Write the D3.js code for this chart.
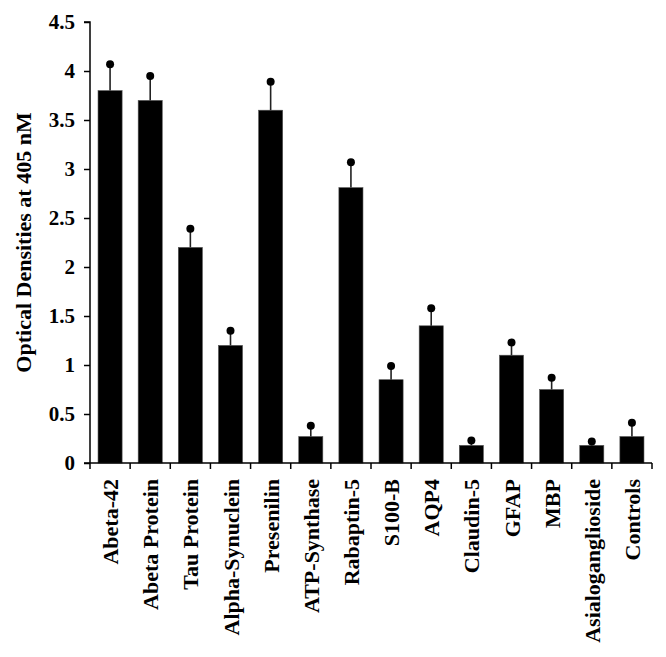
<!DOCTYPE html>
<html>
<head>
<meta charset="utf-8">
<script src="https://cdn.jsdelivr.net/npm/d3@7"></script>
<style>
  body { margin: 0; background: #fff; }
  text { font-family: "Liberation Serif", "DejaVu Serif", serif; font-weight: bold; fill: #000; }
</style>
</head>
<body>
<svg id="chart" width="666" height="657"></svg>
<script>
// categories and readings (optical density at 405 nM)
var categories = ['Abeta-42', 'Abeta Protein', 'Tau Protein', 'Alpha-Synuclein', 'Presenilin',
  'ATP-Synthase', 'Rabaptin-5', 'S100-B', 'AQP4', 'Claudin-5', 'GFAP', 'MBP',
  'Asialoganglioside', 'Controls'];
var means = [3.8, 3.7, 2.2, 1.2, 3.6, 0.27, 2.81, 0.85, 1.4, 0.18, 1.1, 0.75, 0.18, 0.27];
var errTops = [4.07, 3.95, 2.39, 1.35, 3.89, 0.38, 3.07, 0.99, 1.58, 0.23, 1.23, 0.87, 0.22, 0.41];
var yTicks = [0, 0.5, 1, 1.5, 2, 2.5, 3, 3.5, 4, 4.5];

var margin = { left: 90, top: 22, right: 14, bottom: 194 };
var width = 666, height = 657;

var svg = d3.select('#chart');

var x = d3.scaleBand()
    .domain(categories)
    .range([margin.left, width - margin.right])
    .padding(0);

var y = d3.scaleLinear()
    .domain([0, 4.5])
    .range([height - margin.bottom, margin.top]);

var bw = x.bandwidth();
var barW = bw * 0.6;

// bars
svg.append('g').selectAll('rect')
    .data(categories)
    .enter().append('rect')
    .attr('x', function (d) { return x(d) + (bw - barW) / 2; })
    .attr('y', function (d, i) { return y(means[i]); })
    .attr('width', barW)
    .attr('height', function (d, i) { return y(0) - y(means[i]); })
    .attr('fill', '#000')
    .attr('stroke', '#555')
    .attr('stroke-width', 0.6);

// error bars: stem + dot cap
var eb = svg.append('g');
eb.selectAll('line')
    .data(categories)
    .enter().append('line')
    .attr('x1', function (d) { return x(d) + bw / 2; })
    .attr('x2', function (d) { return x(d) + bw / 2; })
    .attr('y1', function (d, i) { return y(means[i]); })
    .attr('y2', function (d, i) { return y(errTops[i]); })
    .attr('stroke', '#222')
    .attr('stroke-width', 1.6);
eb.selectAll('circle')
    .data(categories)
    .enter().append('circle')
    .attr('cx', function (d) { return x(d) + bw / 2; })
    .attr('cy', function (d, i) { return y(errTops[i]); })
    .attr('r', 4)
    .attr('fill', '#000');

// y axis
var yAxis = svg.append('g')
    .attr('transform', 'translate(' + margin.left + ',0)')
    .call(d3.axisLeft(y).tickValues(yTicks).tickSize(6).tickPadding(9)
      .tickFormat(function (d) { return d3.format('')(d); }));
yAxis.select('.domain').attr('stroke', '#000').attr('stroke-width', 1.5)
    .attr('d', 'M0,' + y(0) + 'V' + y(4.5) + 'H-6');
yAxis.selectAll('.tick line').attr('stroke', '#000').attr('stroke-width', 1.5);
yAxis.selectAll('text').style('font-size', '21px').style('font-family', '"Liberation Serif", serif').style('font-weight', 'bold');

// x axis: ticks at band boundaries
var xg = svg.append('g').attr('transform', 'translate(0,' + y(0) + ')');
xg.append('line')
    .attr('x1', margin.left - 6).attr('x2', width - margin.right)
    .attr('stroke', '#000').attr('stroke-width', 1.5);
var bounds = categories.map(function (d) { return x(d); }).concat([x(categories[categories.length - 1]) + bw]);
xg.selectAll('line.tk')
    .data(bounds)
    .enter().append('line')
    .attr('class', 'tk')
    .attr('x1', function (d) { return d; })
    .attr('x2', function (d) { return d; })
    .attr('y1', 0).attr('y2', 6)
    .attr('stroke', '#000').attr('stroke-width', 1.5);
xg.selectAll('text')
    .data(categories)
    .enter().append('text')
    .attr('transform', function (d) { return 'translate(' + (x(d) + bw / 2 + 8) + ',' + 16 + ') rotate(-90)'; })
    .attr('text-anchor', 'end')
    .style('font-size', '22px')
    .text(function (d) { return d; });

// y title
svg.append('text')
    .attr('transform', 'translate(31,' + ((margin.top + y(0)) / 2 + 0) + ') rotate(-90)')
    .attr('text-anchor', 'middle')
    .style('font-size', '22px')
    .text('Optical Densities at 405 nM');
</script>
</body>
</html>
